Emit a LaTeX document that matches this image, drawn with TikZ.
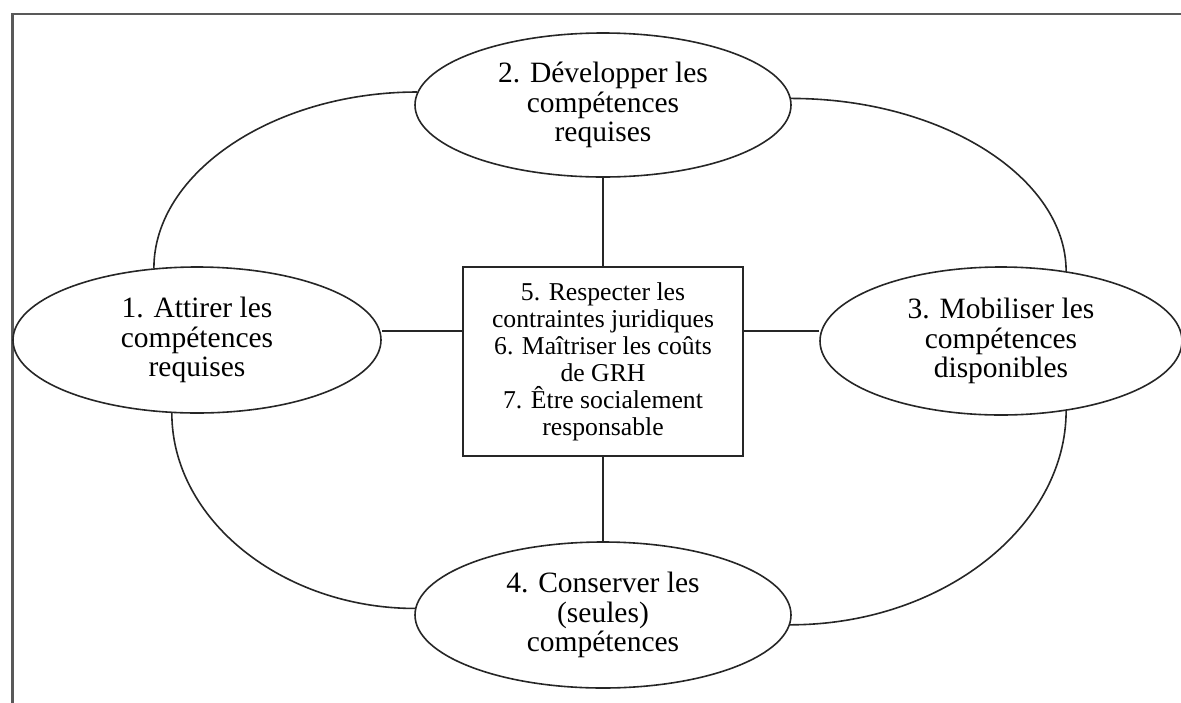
\documentclass[tikz,border=0pt]{standalone}
\usepackage{fontspec}
\setmainfont{Liberation Serif}
\usetikzlibrary{shapes.geometric}
\begin{document}
\begin{tikzpicture}[x=1pt,y=-1pt,
  oval/.style={ellipse,draw=black!85,line width=1.6pt,inner sep=0pt,align=center,
     font=\fontsize{29.5}{29.5}\selectfont},
  centre/.style={rectangle,draw=black!85,line width=1.6pt,inner sep=0pt,align=center,
     minimum width=280pt,minimum height=189pt,font=\fontsize{25.7}{27}\selectfont},
  link/.style={draw=black!85,line width=1.6pt},
  frameline/.style={draw=black!65,line width=2.2pt}]
\useasboundingbox (0,0) rectangle (1181,702);
\draw[frameline] (1190,14) -- (12.5,14) -- (12.5,710);
\node[oval,minimum width=376pt,minimum height=144pt] (n2) at (603,105) {2. Développer les\\compétences\\requises};
\node[oval,minimum width=368pt,minimum height=146pt] (n1) at (197,340) {1. Attirer les\\compétences\\requises};
\node[oval,minimum width=362pt,minimum height=148pt] (n3) at (1001,341) {3. Mobiliser les\\compétences\\disponibles};
\node[oval,minimum width=376pt,minimum height=146pt] (n4) at (603,615) {4. Conserver les\\(seules)\\compétences};
\node[centre] (c) at (603,361.5) {5. Respecter les\\contraintes juridiques\\6. Maîtriser les coûts\\de GRH\\7. Être socialement\\responsable};
\coordinate (cl) at ([yshift=30.5pt]c.west);
\coordinate (cr) at ([yshift=30.5pt]c.east);
\draw[link] (c.north) -- (n2.south);
\draw[link] (c.south) -- (n4.north);
\draw[link] (cl) -- (n1.east |- cl);
\draw[link] (cr) -- (n3.west |- cr);
\draw[link] (n2.176) .. controls +(-143,0) and +(0,-96) .. (n1.121);
\draw[link] (n2.2) .. controls +(152,0) and +(0,-93) .. (n3.47);
\draw[link] (n1.251) .. controls +(0,107) and +(-132,0) .. (n4.178);
\draw[link] (n4.357) .. controls +(153,0) and +(0,115) .. (n3.313);
\end{tikzpicture}
\end{document}
